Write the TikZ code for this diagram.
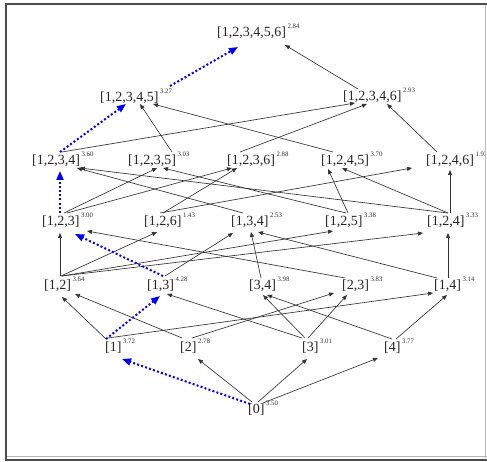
\documentclass[tikz,border=0pt]{standalone}
\usepackage{fontspec}
\setmainfont{Liberation Serif}
\usetikzlibrary{arrows.meta,calc}
\tikzset{
 lab/.style={inner sep=0pt, anchor=west, font=\fontsize{14}{15}\selectfont, text=black!85},
 supl/.style={inner sep=0pt, anchor=west, font=\fontsize{6.8}{7}\selectfont, text=black!80},
 arr/.style={draw=black!80, line width=0.65pt, -{Triangle[length=5pt,width=4pt]}},
 best/.style={draw=blue, line width=2pt, dash pattern=on 2pt off 2.2pt, -{Triangle[length=9pt,width=7pt]}},
 frame/.style={draw=black!70, line width=2pt},
}
\newcommand\LN[5]{\node[lab] (#1) at (#2,#3) {#4};
  \node[supl] (#1s) at ([xshift=1.2pt,yshift=0.3pt]#1.north east) {#5};}
\newcommand\E[5][arr]{\draw[#1] ($(#2.west)+(#3)$) -- ($(#4.west)+(#5)$);}
\begin{document}
\begin{tikzpicture}[x=1pt,y=-1pt]
\useasboundingbox (0,0) rectangle (487,462);
\fill[white] (0,0) rectangle (487,462);
\begin{scope}
\clip (6,5) rectangle (485,458);
% nodes
\LN{t}{217}{33}{[1,2,3,4,5,6]}{2.84}
\LN{a5}{100}{98}{[1,2,3,4,5]}{3.27}
\LN{b5}{343}{97}{[1,2,3,4,6]}{2.93}
\LN{a4}{32}{161}{[1,2,3,4]}{3.60}
\LN{b4}{128}{161}{[1,2,3,5]}{3.03}
\LN{c4}{227}{161}{[1,2,3,6]}{2.88}
\LN{d4}{321}{161}{[1,2,4,5]}{3.70}
\LN{e4}{426}{161}{[1,2,4,6]}{1.93}
\LN{a3}{42}{222}{[1,2,3]}{3.00}
\LN{b3}{144}{222}{[1,2,6]}{1.43}
\LN{c3}{231}{222}{[1,3,4]}{2.53}
\LN{d3}{325}{222}{[1,2,5]}{3.38}
\LN{e3}{427}{222}{[1,2,4]}{3.33}
\LN{a2}{44}{286}{[1,2]}{3.64}
\LN{b2}{147}{286}{[1,3]}{4.28}
\LN{c2}{249}{286}{[3,4]}{3.98}
\LN{d2}{342}{286}{[2,3]}{3.83}
\LN{e2}{434}{286}{[1,4]}{3.14}
\LN{a1}{105}{348}{[1]}{3.72}
\LN{b1}{180}{348}{[2]}{2.78}
\LN{c1}{302}{348}{[3]}{3.01}
\LN{d1}{384}{348}{[4]}{3.77}
\LN{z}{248}{410}{[0]}{3.50}
% level 0 -> 1
\E[best]{z}{2,-6}{a1}{17,11}
\E{z}{4,-8}{b1}{18,11}
\E{z}{10,-8}{c1}{5,11}
\E{z}{15,-7}{d1}{-6,10}
% level 1 -> 2
\E{a1}{1,-9}{a2}{18,11}
\E[best]{a1}{1,-9}{b2}{13,10}
\E{a1}{3,-10}{e2}{-1,7}
\E{b1}{2,-10}{a2}{31,8}
\E{b1}{12,-10}{d2}{-8,7}
\E{c1}{0,-10}{b2}{20,8}
\E{c1}{3,-10}{c2}{14,9}
\E{c1}{6,-10}{d2}{5,9}
\E{d1}{8,-9}{c2}{18,9}
\E{d1}{12,-9}{e2}{13,9}
% level 2 -> 3
\E{a2}{16,-10}{a3}{18,11}
\E{a2}{17,-10}{b3}{13,10}
\E{a2}{18,-10}{d3}{8,9}
\E{a2}{18,-10}{e3}{-4,11}
\E[best]{b2}{16,-10}{a3}{33,12}
\E{b2}{18,-10}{c3}{2,11}
\E{c2}{12,-8}{c3}{20,10}
\E{d2}{3,-8}{a3}{45,9}
\E{e2}{3,-8}{c3}{27,10}
\E{e2}{14,-8}{e3}{21,11}
% level 3 -> 4
\E[best]{a3}{18,-9}{a4}{28,10}
\E{a3}{22,-9}{b4}{29,7}
\E{a3}{25,-9}{c4}{5,7}
\E{b3}{19,-9}{c4}{10,7}
\E{b3}{16,-9}{e4}{-14,7}
\E{c3}{12,-9}{a4}{45,7}
\E{d3}{21,-9}{b4}{35,7}
\E{d3}{23,-9}{d4}{7,8}
\E{e3}{21,-9}{a4}{48,7}
\E{e3}{21,-9}{d4}{21,7}
\E{e3}{23,-9}{e4}{24,9}
% level 4 -> 5
\E[best]{a4}{28,-9}{a5}{26,6}
\E{a4}{30,-9}{b5}{12,6}
\E{b4}{44,-9}{a5}{40,6}
\E{d4}{12,-9}{a5}{53,6}
\E{c4}{13,-9}{b5}{24,7}
\E{e4}{11,-9}{b5}{44,7}
% level 5 -> 6
\E[best]{a5}{70,-12}{t}{21,14}
\E{b5}{15,-8}{t}{68,12}
\end{scope}
% frame
\draw[black!25, line width=0.8pt] (485.5,5) -- (485.5,458);
\draw[black!30, line width=0.8pt] (6,456) -- (487,456);
\draw[frame] (5.5,460) |- (487,4.5);
\draw[frame] (5,460) -- (487,460);
\end{tikzpicture}
\end{document}
